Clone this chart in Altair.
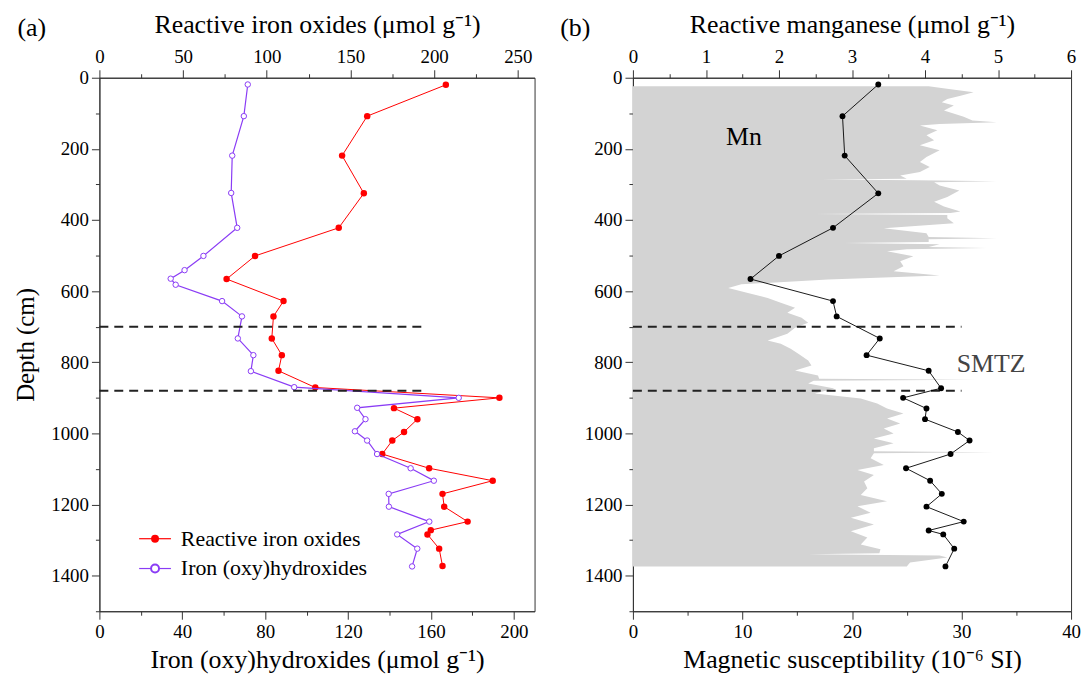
import altair as alt
import pandas as pd

FONT = "Liberation Serif"

# ---------------- data ----------------
# (a) Reactive iron oxides (top axis, umol/g)
depth_fe = [20, 108, 219, 325, 422, 501, 566, 628, 671, 733, 780, 824, 871, 900,
            929, 960, 996, 1020, 1058, 1098, 1133, 1170, 1206, 1248, 1272, 1284, 1324, 1373]
fe_reactive = [207, 160, 145, 158, 143, 93, 76, 110, 104, 103, 109, 107, 129, 239,
               176, 190, 182, 175, 169, 197, 235, 205, 206, 220, 198, 196, 203, 205]

# (a) Iron (oxy)hydroxides (bottom axis, umol/g)
depth_oxy = [19, 108, 219, 324, 422, 501, 541, 565, 582, 628, 671, 733, 780, 825, 870,
             900, 928, 960, 994, 1020, 1058, 1098, 1133, 1170, 1206, 1248, 1284, 1324, 1374]
fe_oxy = [71.6, 69.7, 64.1, 63.6, 66.5, 50.2, 41.1, 34.4, 36.8, 59.2, 68.8, 66.8, 74.3, 73.1, 94.0,
          173.4, 124.4, 128.4, 123.3, 129.2, 134.0, 150.2, 161.4, 139.6, 139.7, 159.2, 143.7, 153.4, 150.9]

# (b) Reactive manganese (top axis, umol/g)
depth_mn = [19, 108, 219, 325, 422, 501, 566, 628, 671, 733, 780, 824, 873, 900,
            930, 960, 996, 1020, 1058, 1098, 1133, 1170, 1206, 1248, 1273, 1284, 1324, 1374]
mn = [3.36, 2.87, 2.90, 3.36, 2.74, 2.00, 1.61, 2.74, 2.79, 3.38, 3.20, 4.05, 4.22, 3.70,
      4.02, 4.00, 4.45, 4.61, 4.35, 3.74, 4.07, 4.23, 4.02, 4.53, 4.05, 4.25, 4.40, 4.28]

# (b) Magnetic susceptibility (bottom axis, 10^-6 SI)
ms_depth = [24, 30, 41, 50, 60, 69, 78, 92, 110, 120, 125, 130, 134, 148, 162, 176, 190, 204,
            223, 237, 251, 265, 275, 284, 286, 288, 291, 294, 303, 317, 335, 349, 362, 376,
            380, 383, 386, 395, 409, 423, 437, 448, 451, 454, 462, 465, 468, 476, 479, 482,
            488, 502, 516, 530, 544, 556, 567, 581, 591, 605, 619, 633, 647, 661, 675, 689,
            703, 720, 739, 748, 762, 776, 795, 809, 823, 837, 846, 849, 852, 860, 874, 888,
            902, 916, 930, 944, 958, 972, 986, 1000, 1014, 1028, 1042, 1050, 1053, 1056,
            1070, 1089, 1103, 1117, 1135, 1154, 1173, 1191, 1205, 1223, 1237, 1256, 1275,
            1293, 1312, 1326, 1337, 1340, 1343, 1349, 1363, 1374]
ms_value = [27.0, 28.5, 31.1, 30.0, 28.7, 28.2, 29.3, 28.4, 30.2, 31.0, 33.2, 28.0, 26.2, 27.8,
            26.8, 27.5, 26.2, 28.0, 26.8, 26.2, 27.1, 26.2, 24.4, 25.0, 17.2, 26.0, 33.2, 27.5,
            28.0, 29.8, 28.7, 27.5, 28.4, 29.9, 29.0, 16.6, 28.7, 28.7, 29.3, 22.9, 26.8, 27.0,
            33.2, 27.0, 27.0, 19.3, 28.0, 27.0, 32.3, 25.0, 23.2, 25.6, 24.4, 24.7, 23.8, 28.0,
            17.8, 9.9, 8.7, 10.5, 12.3, 13.5, 14.8, 14.1, 15.4, 16.0, 14.8, 14.1, 12.3, 13.5,
            14.4, 15.1, 16.0, 16.3, 14.8, 16.9, 17.0, 31.4, 16.5, 16.0, 18.4, 16.6, 20.8, 22.3,
            23.2, 24.7, 23.2, 24.4, 22.9, 23.8, 22.0, 23.8, 22.0, 22.0, 32.9, 22.0, 21.7, 22.9,
            20.5, 22.0, 21.1, 21.4, 20.8, 23.2, 20.5, 21.7, 19.9, 22.0, 19.9, 21.4, 20.8, 22.6,
            22.5, 16.0, 28.0, 28.7, 25.3, 25.0]

# SMTZ boundaries (depth) and dashed-line extents
smtz_depth = [700, 880]
smtz_end_a = 158   # in Iron (oxy)hydroxides units
smtz_end_b = 30    # in magnetic susceptibility units

df_fe = pd.DataFrame({"depth": depth_fe, "value": fe_reactive})
df_oxy = pd.DataFrame({"depth": depth_oxy, "value": fe_oxy})
df_mn = pd.DataFrame({"depth": depth_mn, "value": mn})
df_ms = pd.DataFrame({"depth": ms_depth, "value": ms_value})
df_rule_a = pd.DataFrame({"depth": smtz_depth, "value": [0, 0], "x1": [smtz_end_a] * 2})
df_rule_b = pd.DataFrame({"depth": smtz_depth, "value": [0, 0], "x1": [smtz_end_b] * 2})
df_mn_label = pd.DataFrame({"depth": [168], "value": [1.52], "label": ["Mn"]})
df_smtz_label = pd.DataFrame({"depth": [804], "value": [32.7], "label": ["SMTZ"]})

W1, W2, H = 438, 441, 537

RED = "#FF0000"
PURPLE = "#8A3CF5"
GRAY = "#D3D3D3"


def tick_cond(test):
    return {"condition": {"test": test, "value": 4}, "value": 8}


def xaxis(orient, title, step, label_every, tmax):
    vals = []
    v = 0.0
    while v <= tmax + 1e-9:
        vals.append(round(v, 4))
        v += step
    test = f"abs(datum.value / {label_every} - round(datum.value / {label_every})) > 0.001"
    return alt.Axis(
        orient=orient, title=title, values=vals,
        labelExpr=f"{test} ? '' : '' + datum.value",
        tickSize=tick_cond(test), labelFlush=False, labelOverlap=False,
        grid=False, titlePadding=11 if orient == "top" else 6,
    )


def yaxis(title):
    test = "datum.value % 200 !== 0"
    return alt.Axis(
        title=title, values=list(range(0, 1501, 100)),
        labelExpr=f"{test} ? '' : '' + datum.value",
        tickSize=tick_cond(test), labelFlush=False, labelOverlap=False,
        grid=False, titleFontSize=25, titlePadding=12,
    )


def ydepth(title):
    return alt.Y("depth:Q", scale=alt.Scale(domain=[0, 1500], reverse=True, nice=False, zero=False),
                 axis=yaxis(title))


# ---------------- panel (a) ----------------
fe_scale = alt.Scale(domain=[0, 260], nice=False)
fe_axis = xaxis("top", "Reactive iron oxides (μmol g⁻¹)", 25, 50, 250)
x_fe = alt.X("value:Q", scale=fe_scale, axis=fe_axis)
red_line = alt.Chart(df_fe).mark_line(color=RED, strokeWidth=1).encode(
    x=x_fe, y=ydepth("Depth (cm)"), order="depth:Q")
red_pts = alt.Chart(df_fe).mark_point(filled=True, color=RED, size=42, opacity=1).encode(
    x=x_fe, y=ydepth("Depth (cm)"))
red_group = alt.layer(red_line, red_pts)

oxy_scale = alt.Scale(domain=[0, 210], nice=False)
oxy_axis = xaxis("bottom", "Iron (oxy)hydroxides (μmol g⁻¹)", 20, 40, 200)
x_oxy = alt.X("value:Q", scale=oxy_scale, axis=oxy_axis)
oxy_line = alt.Chart(df_oxy).mark_line(color=PURPLE, strokeWidth=1.2).encode(
    x=x_oxy, y=ydepth("Depth (cm)"), order="depth:Q")
oxy_pts = alt.Chart(df_oxy).mark_point(filled=False, color=PURPLE, fill="white", size=30,
                                       strokeWidth=1, opacity=1).encode(
    x=x_oxy, y=ydepth("Depth (cm)"))
rule_a = alt.Chart(df_rule_a).mark_rule(color="#222", strokeWidth=2, strokeDash=[9, 6]).encode(
    x=x_oxy, x2="x1:Q", y=ydepth("Depth (cm)"))

leg_src = alt.Chart(pd.DataFrame({"k": [0]}))
leg = []
for yy, col, filled, lab in [(464, RED, True, "Reactive iron oxides"),
                             (494, PURPLE, False, "Iron (oxy)hydroxides")]:
    leg.append(leg_src.mark_rule(color=col, strokeWidth=1.2).encode(
        x=alt.value(40), x2=alt.value(72), y=alt.value(yy)))
    if filled:
        leg.append(leg_src.mark_point(filled=True, color=col, size=64, opacity=1).encode(
            x=alt.value(56), y=alt.value(yy)))
    else:
        leg.append(leg_src.mark_point(filled=False, color=col, fill="white", size=64,
                                      opacity=1).encode(x=alt.value(56), y=alt.value(yy)))
    leg.append(leg_src.mark_text(align="left", baseline="middle", font=FONT, fontSize=22,
                                 color="black").encode(
        x=alt.value(82), y=alt.value(yy), text=alt.value(lab)))
tag_a = leg_src.mark_text(font=FONT, fontSize=26, color="black", baseline="middle").encode(
    x=alt.value(-68), y=alt.value(-50), text=alt.value("(a)"))

oxy_group = alt.layer(oxy_line, oxy_pts, rule_a, *leg, tag_a)

panel_a = alt.layer(red_group, oxy_group).resolve_scale(x="independent").properties(
    width=W1, height=H)

# ---------------- panel (b) ----------------
ms_scale = alt.Scale(domain=[0, 40], nice=False)
ms_axis = xaxis("bottom", "Magnetic susceptibility (10⁻⁶ SI)", 5, 10, 40)
x_ms = alt.X("value:Q", scale=ms_scale, axis=ms_axis)
ms_area = alt.Chart(df_ms).mark_area(color=GRAY, orient="horizontal", opacity=1).encode(
    x=x_ms, y=ydepth(None))
rule_b = alt.Chart(df_rule_b).mark_rule(color="#222", strokeWidth=2, strokeDash=[9, 6]).encode(
    x=x_ms, x2="x1:Q", y=ydepth(None))
smtz_txt = alt.Chart(df_smtz_label).mark_text(font=FONT, fontSize=26, color="#444").encode(
    x=x_ms, y=ydepth(None), text="label:N")
tag_b = leg_src.mark_text(font=FONT, fontSize=26, color="black", baseline="middle").encode(
    x=alt.value(-58), y=alt.value(-50), text=alt.value("(b)"))
ms_group = alt.layer(ms_area, rule_b, smtz_txt, tag_b)

mn_scale = alt.Scale(domain=[0, 6], nice=False)
mn_axis = xaxis("top", "Reactive manganese (μmol g⁻¹)", 0.5, 1, 6)
x_mn = alt.X("value:Q", scale=mn_scale, axis=mn_axis)
mn_line = alt.Chart(df_mn).mark_line(color="black", strokeWidth=0.9).encode(
    x=x_mn, y=ydepth(None), order="depth:Q")
mn_pts = alt.Chart(df_mn).mark_point(filled=True, color="black", size=35, opacity=1).encode(
    x=x_mn, y=ydepth(None))
mn_txt = alt.Chart(df_mn_label).mark_text(font=FONT, fontSize=26, color="black").encode(
    x=x_mn, y=ydepth(None), text="label:N")
mn_group = alt.layer(mn_line, mn_pts, mn_txt)

panel_b = alt.layer(ms_group, mn_group).resolve_scale(x="independent").properties(
    width=W2, height=H)

chart = alt.hconcat(panel_a, panel_b, spacing=24).configure(
    font=FONT,
    padding={"left": 5, "top": 0, "right": 0, "bottom": 0},
).configure_axis(
    labelFont=FONT, titleFont=FONT, labelFontSize=19, titleFontSize=26,
    titleFontWeight="normal", labelColor="black", titleColor="black",
    domainColor="#333", tickColor="#333", domainWidth=1, tickWidth=1,
    labelPadding=3,
).configure_view(stroke="#333", strokeWidth=1)

chart.save("out.html", embed_options={"renderer": "svg", "actions": False})
